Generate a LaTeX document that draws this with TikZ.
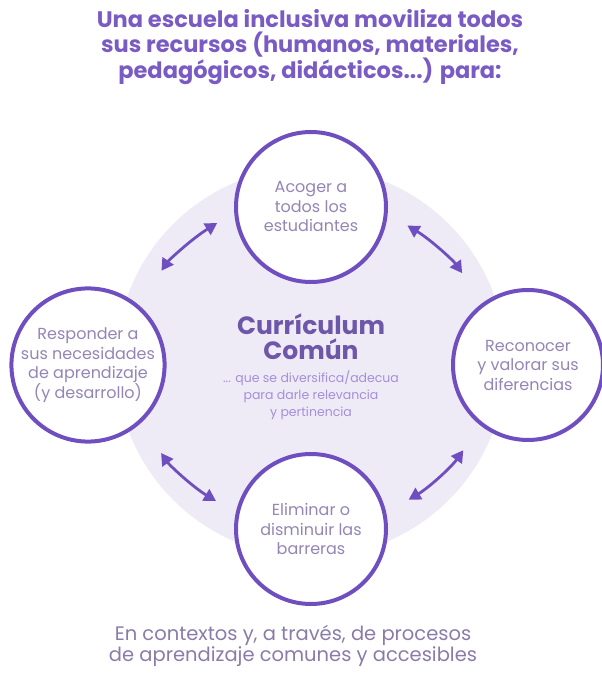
\documentclass[tikz,border=0pt]{standalone}
\usepackage{fontspec}
\setmainfont{Poppins}
\usetikzlibrary{arrows.meta}
\definecolor{morado}{HTML}{6F4FBF}
\definecolor{titulo}{HTML}{7A5BC4}
\definecolor{fondo}{HTML}{EEEBF7}
\definecolor{texto}{HTML}{9485B5}
\definecolor{centro}{HTML}{6E56A8}
\definecolor{suave}{HTML}{A58FD8}
\definecolor{pie}{HTML}{8A7BA8}

\tikzset{
  etapa/.style={circle, draw=morado, line width=4pt, fill=white,
    minimum size=150pt, inner sep=0pt, align=center, text=texto,
    font=\fontsize{16}{19.5}\selectfont},
  flecha/.style={{Triangle[length=12pt,width=13pt]}-{Triangle[length=12pt,width=13pt]},
    line width=2.8pt, draw=morado}
}

\begin{document}
\begin{tikzpicture}[x=1pt,y=1pt]
  \useasboundingbox (0,0) rectangle (602,673);
  \node[font=\bfseries\fontsize{22.5}{25}\selectfont, text=titulo, align=center] (titulo) at (310,626)
    {Una escuela inclusiva moviliza todos\\sus recursos (humanos, materiales,\\pedagógicos, didácticos...) para:};
  \fill[color=fondo] (311,311) circle (195pt);
  \node[etapa] (acoger) at (311,466) {Acoger a\\todos los\\estudiantes};
  \node[etapa] (responder) at (88,308) {Responder a\\sus necesidades\\de aprendizaje\\(y desarrollo)};
  \node[etapa] (reconocer) at (528,308) {Reconocer\\y valorar sus\\diferencias};
  \node[etapa] (eliminar) at (311,144) {Eliminar o\\disminuir las\\barreras};
  \node[font=\bfseries\fontsize{25}{25}\selectfont, text=centro, align=center] (curriculum) at (311,336)
    {Currículum\\Común};
  \node[font=\fontsize{12.5}{17}\selectfont, text=suave, align=center] (adecua) at (311,278)
    {... que se diversifica/adecua\\para darle relevancia\\y pertinencia};
  \draw[flecha, shorten <=41pt, shorten >=20pt] (responder.50) to[bend left=12] (acoger.184);
  \draw[flecha, shorten <=23pt, shorten >=36pt] (acoger.-5) to[bend left=12] (reconocer.126);
  \draw[flecha, shorten <=30pt, shorten >=26pt] (reconocer.-128) to[bend left=12] (eliminar.12);
  \draw[flecha, shorten <=23pt, shorten >=36pt] (eliminar.168) to[bend left=12] (responder.-48);
  \node[font=\fontsize{19.5}{21}\selectfont, text=pie, align=center] (pie) at (293,27)
    {En contextos y, a través, de procesos\\de aprendizaje comunes y accesibles};
\end{tikzpicture}
\end{document}
